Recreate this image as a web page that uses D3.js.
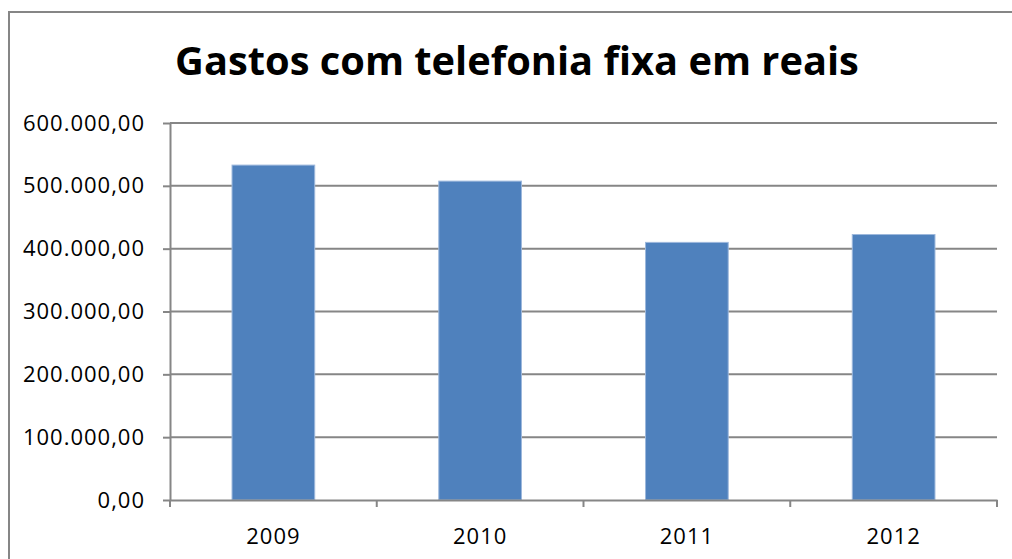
<!DOCTYPE html>
<html>
<head>
<meta charset="utf-8">
<script src="https://cdn.jsdelivr.net/npm/d3@7"></script>
<style>
  html, body { margin: 0; padding: 0; background: #fff; overflow: hidden; }
  svg { display: block; }
  svg text { font-family: "Open Sans", "Liberation Sans", sans-serif; fill: #000; }
</style>
</head>
<body>
<div id="chart"></div>
<script>
// Data
const years = ["2009", "2010", "2011", "2012"];
const gastos = [533000, 507500, 410000, 422500];
const yTicks = [0, 100000, 200000, 300000, 400000, 500000, 600000];
const titleText = "Gastos com telefonia fixa em reais";

const W = 1012, H = 559;
const plot = { left: 170, right: 997, top: 123, bottom: 500 };
const axisColor = "#868686";

const ptBR = d3.formatLocale({ decimal: ",", thousands: ".", grouping: [3], currency: ["", ""] });
const fmt = ptBR.format(",.2f");

const svg = d3.select("#chart")
  .append("svg")
  .attr("width", W)
  .attr("height", H);

// Outer chart border: only the top and left edges are inside the picture
svg.append("path")
  .attr("d", `M9,${H} L9,12 L${W},12`)
  .attr("fill", "none")
  .attr("stroke", axisColor)
  .attr("stroke-width", 2);

// Scales
const xBand = d3.scaleBand()
  .domain(years)
  .range([plot.left, plot.right])
  .paddingInner(0.6)
  .paddingOuter(0.3);

const xCat = d3.scaleBand()
  .domain(years)
  .range([plot.left, plot.right])
  .padding(0);

const y = d3.scaleLinear()
  .domain([0, 600000])
  .range([plot.bottom, plot.top]);

// Gridlines
svg.append("g")
  .selectAll("line")
  .data(yTicks.filter(d => d > 0))
  .enter()
  .append("line")
  .attr("x1", plot.left)
  .attr("x2", plot.right)
  .attr("y1", d => y(d))
  .attr("y2", d => y(d))
  .attr("stroke", axisColor)
  .attr("stroke-width", 2);

// Bars
svg.append("g")
  .selectAll("rect")
  .data(years)
  .enter()
  .append("rect")
  .attr("x", d => xBand(d))
  .attr("width", xBand.bandwidth())
  .attr("y", (d, i) => y(gastos[i]))
  .attr("height", (d, i) => y(0) - y(gastos[i]))
  .attr("fill", "#4F81BD")
  .attr("stroke", "#9db8dc")
  .attr("stroke-width", 1);

// Y axis
const yAxis = svg.append("g")
  .attr("transform", `translate(${plot.left},0)`)
  .call(d3.axisLeft(y).tickValues(yTicks).tickFormat(fmt).tickSize(7).tickPadding(18).tickSizeOuter(0));

// X axis: labels centred in each category, tick marks on the category boundaries
const xAxis = svg.append("g")
  .attr("transform", `translate(0,${plot.bottom})`)
  .call(d3.axisBottom(xCat).tickSize(0).tickSizeOuter(0));

xAxis.selectAll(".tick text")
  .attr("y", 44)
  .attr("dy", null);

const bounds = years.map(d => xCat(d)).concat([plot.right]);
xAxis.selectAll(".boundary")
  .data(bounds)
  .enter()
  .append("line")
  .attr("class", "boundary")
  .attr("x1", d => d)
  .attr("x2", d => d)
  .attr("y1", 0)
  .attr("y2", 7)
  .attr("stroke", axisColor)
  .attr("stroke-width", 2);

svg.selectAll(".domain, .tick line")
  .attr("stroke", axisColor)
  .attr("stroke-width", 2);

svg.selectAll(".tick text")
  .style("font-size", "22px")
  .style("letter-spacing", "1px")
  .attr("fill", "#000");

// Title
const title = svg.append("text")
  .attr("x", 517)
  .attr("y", 75)
  .attr("text-anchor", "middle")
  .style("font-size", "36px")
  .style("font-weight", "bold")
  .text(titleText);

const tw = title.node().getComputedTextLength();
title.style("font-size", (36 * 683 / tw).toFixed(1) + "px");
</script>
</body>
</html>
